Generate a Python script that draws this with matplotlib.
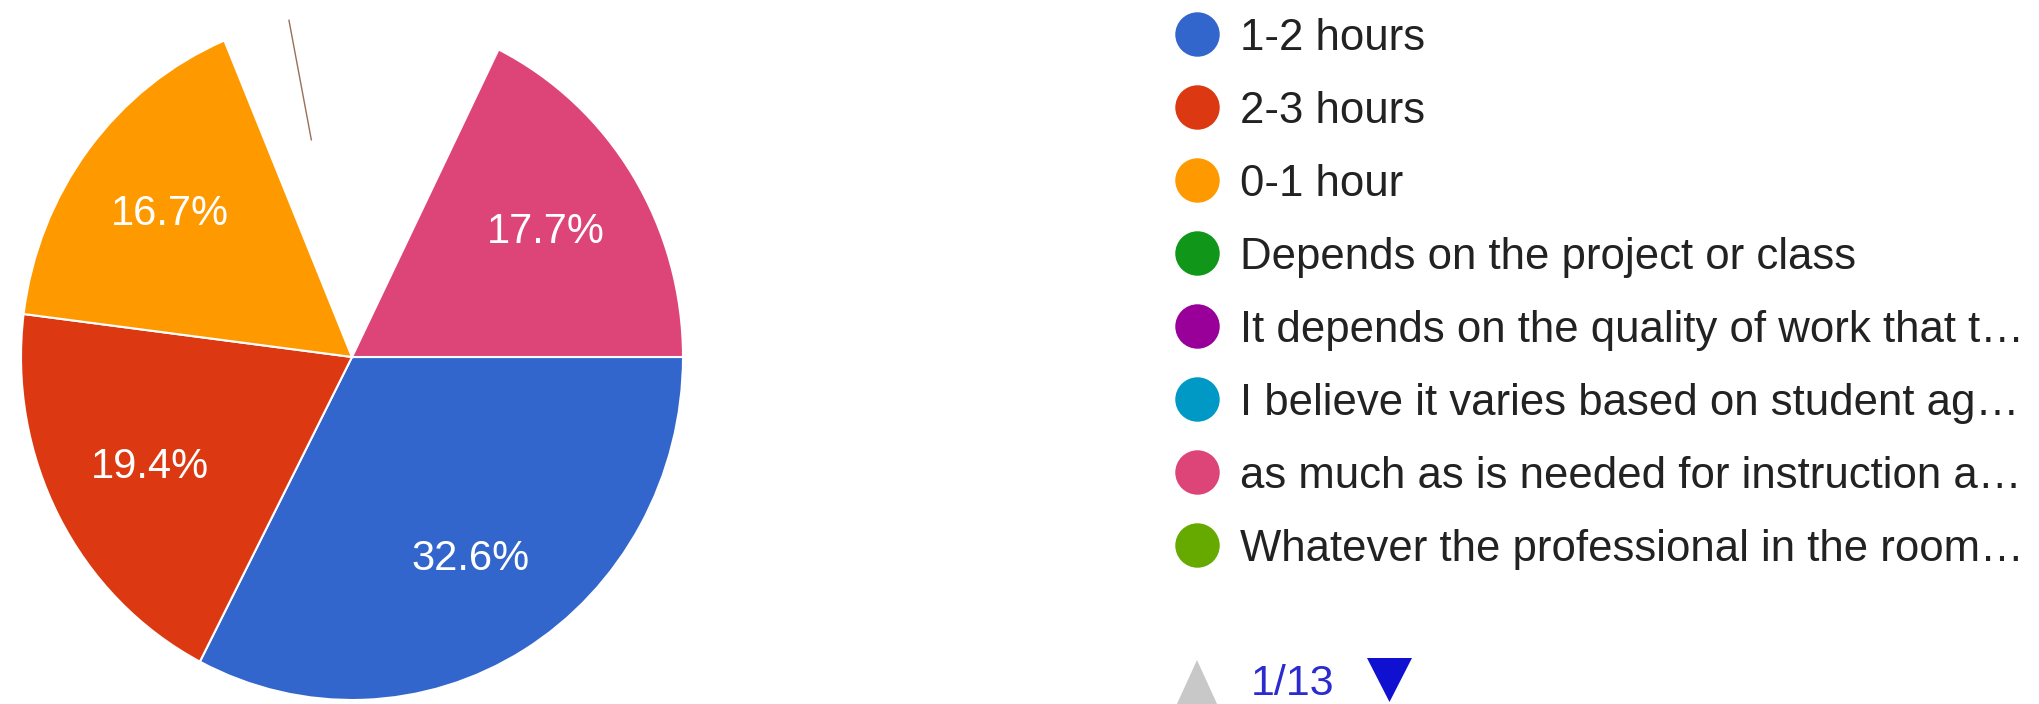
import numpy as np
import matplotlib.pyplot as plt
from matplotlib.patches import Polygon

plt.rcParams['font.family'] = ['Liberation Sans', 'DejaVu Sans']

# slices in drawing order (clockwise from 3 o'clock)
slice_names = ['1-2 hours', '2-3 hours', '0-1 hour', 'other answers', 'as much as is needed for instruction a…']
slice_pct = [32.6, 19.4, 16.7, 13.6, 17.7]
slice_colors = ['#3366cc', '#dc3912', '#ff9900', 'white', '#dd4477']
slice_labeled = [True, True, True, False, True]

# legend, page 1 of 13
legend_names = ['1-2 hours', '2-3 hours', '0-1 hour', 'Depends on the project or class',
                'It depends on the quality of work that t…',
                'I believe it varies based on student ag…',
                'as much as is needed for instruction a…',
                'Whatever the professional in the room…']
legend_colors = ['#3366cc', '#dc3912', '#ff9900', '#109618', '#990099', '#0099c6', '#dd4477', '#66aa00']
page_text = '1/13'

# stray thin edge inside the unlabelled gap (percent after the gap start)
stray_pct = 3.25

W, H = 2040, 704
fig = plt.figure(figsize=(W / 100, H / 100), dpi=100)

# pie axes, pie is slightly taller than wide in the screenshot
ax = fig.add_axes([21 / W, 4 / H, 662 / W, 686 / H])
wedges, _ = ax.pie(slice_pct, colors=slice_colors, startangle=0, counterclock=False,
                   wedgeprops=dict(edgecolor='white', linewidth=1.5))
wedges[3].set_edgecolor('none')
ax.set_aspect('auto')
ax.set_xlim(-1, 1)
ax.set_ylim(-1, 1)
ax.axis('off')

for w, p, lab in zip(wedges, slice_pct, slice_labeled):
    if not lab:
        continue
    mid = np.deg2rad((w.theta1 + w.theta2) / 2)
    r = 0.69
    ax.text(r * np.cos(mid), r * np.sin(mid), f'{p:.1f}%', color='white', fontsize=30,
            ha='center', va='center')

gap = wedges[3]
a = np.deg2rad(gap.theta2 - stray_pct * 3.6)
ax.plot([0.645 * np.cos(a), np.cos(a)], [0.645 * np.sin(a), np.sin(a)], color='#9a6f5a', lw=1.0)

# legend drawn in pixel coordinates
lx = fig.add_axes([0, 0, 1, 1])
lx.set_xlim(0, W)
lx.set_ylim(H, 0)
lx.axis('off')
for i, (name, c) in enumerate(zip(legend_names, legend_colors)):
    y = 34 + 73 * i
    lx.scatter([1197], [y], s=32 ** 2, color=c, marker='o', linewidths=0)
    lx.text(1240, y + 16, name, fontsize=31.5, color='#222222', ha='left', va='baseline')

lx.add_patch(Polygon([(1176, 706), (1218, 706), (1197, 660)], closed=True, color='#c8c8c8', lw=0))
lx.text(1251, 695, page_text, fontsize=31, color='#2b2bd0', ha='left', va='baseline')
lx.add_patch(Polygon([(1367, 658), (1412, 658), (1389.5, 702)], closed=True, color='#1010d0', lw=0))

fig.savefig('out.png', dpi=100)
